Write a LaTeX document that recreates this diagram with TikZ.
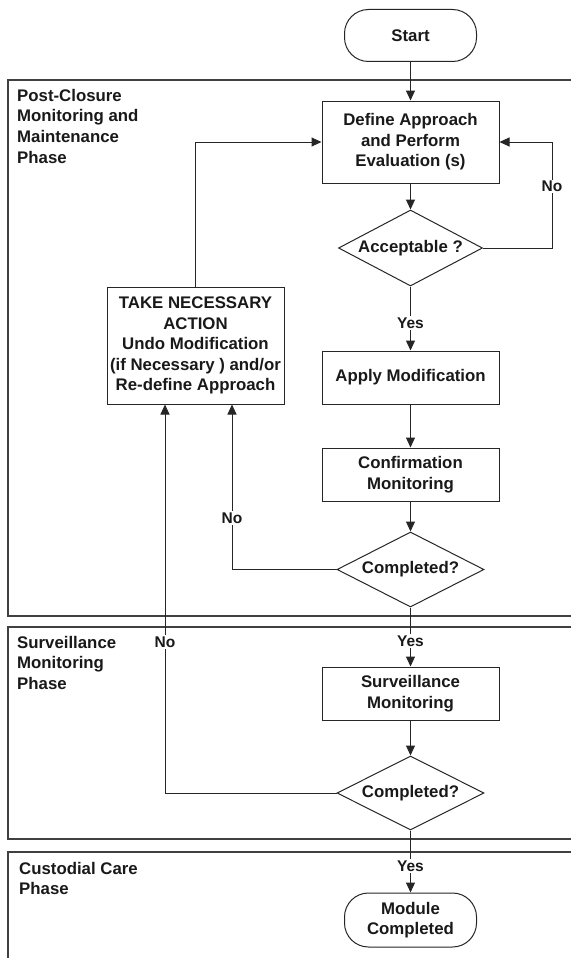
\documentclass[tikz,border=0pt]{standalone}
\usepackage{fontspec}
\setmainfont{Liberation Sans}
\usetikzlibrary{shapes.geometric,arrows.meta,calc}
\begin{document}
\begin{tikzpicture}[x=1pt,y=-1pt,
  every node/.style={font=\fontsize{16.8}{20.6}\selectfont\bfseries, text=black!90},
  ln/.style={draw=black!85, line width=1pt},
  arr/.style={ln, -{Triangle[length=10pt,width=9pt]}},
  frame/.style={draw=black!75, line width=1.2pt},
  procbox/.style={draw=black!85, line width=1pt, rectangle, minimum width=177pt, inner sep=0pt, align=center},
  term/.style={draw=black!85, line width=1pt, rectangle, rounded corners=24pt, minimum width=132pt, inner sep=0pt, align=center},
  decision/.style={draw=black!85, line width=1pt, diamond, inner sep=0pt},
  lab/.style={font=\fontsize{15.5}{18}\selectfont\bfseries, fill=white, inner sep=1.5pt},
  phase/.style={anchor=north west, inner sep=0pt, align=left}
]
\useasboundingbox (0,0) rectangle (571,958);
\fill[white] (0,0) rectangle (571,958);

% phase frames
\draw[frame] (571,80) -- (8,80) -- (8,616) -- (571,616);
\draw[frame] (571,627) -- (8,627) -- (8,839) -- (571,839);
\draw[frame] (571,852) -- (8,852) -- (8,958);

\node[phase] (ph1) at (17,89) {Post-Closure\\Monitoring and\\Maintenance\\Phase};
\node[phase] (ph2) at (17,636) {Surveillance\\Monitoring\\Phase};
\node[phase] (ph3) at (19,862) {Custodial Care\\Phase};

% nodes
\node[term, minimum height=52pt] (start) at (410.5,35.5) {Start};
\node[procbox, minimum height=82pt] (def) at (410.5,142) {Define Approach\\and Perform\\Evaluation (s)};
\node[decision, minimum width=144pt, minimum height=76pt] (acc) at (410.5,248) {\makebox[0pt]{Acceptable ?}};
\node[procbox, minimum height=53pt] (apply) at (410.5,377.5) {Apply Modification};
\node[procbox, minimum height=53pt] (conf) at (410.5,474.5) {Confirmation\\Monitoring};
\node[decision, minimum width=147pt, minimum height=75pt] (c1) at (410.5,569.5) {\makebox[0pt]{Completed?}};
\node[procbox, minimum height=117pt] (take) at (195.5,345.5) {TAKE NECESSARY\\ACTION\\Undo Modification\\(if Necessary ) and/or\\Re-define Approach};
\node[procbox, minimum height=53pt] (surv) at (410.5,693.5) {Surveillance\\Monitoring};
\node[decision, minimum width=147pt, minimum height=74pt] (c2) at (410.5,793) {\makebox[0pt]{Completed?}};
\node[term, minimum height=54pt] (mod) at (410.5,920) {Module\\Completed};

% connectors
\draw[arr] (start) -- (def);
\draw[arr] (def) -- (acc);
\draw[arr] (acc) -- node[lab, pos=0.57] {Yes} (apply);
\draw[arr] (apply) -- (conf);
\draw[arr] (conf) -- (c1);
\draw[arr] (c1) -- node[lab, pos=0.57] {Yes} (surv);
\draw[arr] (surv) -- (c2);
\draw[arr] (c2) -- node[lab, pos=0.57] {Yes} (mod);

\coordinate (nr) at (552,142);
\draw[arr] (acc.east) -| node[lab, pos=0.79] {No} (nr) -- (def.east);
\draw[arr] (take.north) |- (def.west);
\draw[arr] (c1.west) -| node[lab, pos=0.656] {No} ([xshift=36.5pt]take.south);
\draw[arr] (c2.west) -| node[lab, pos=0.694] {No} ([xshift=-30.5pt]take.south);
\end{tikzpicture}
\end{document}
